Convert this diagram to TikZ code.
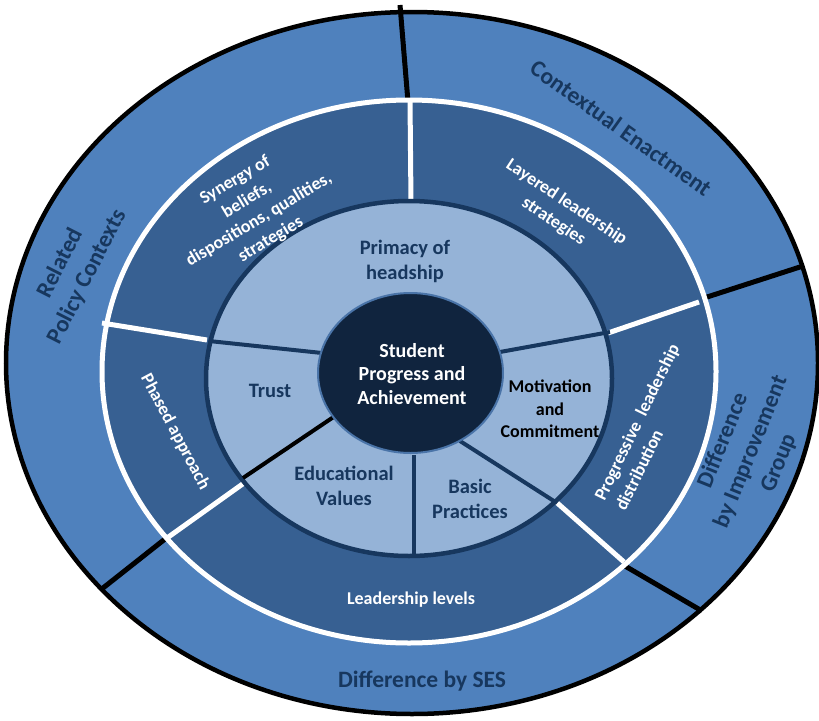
\documentclass[tikz,border=0pt]{standalone}
\usepackage{fontspec}
\setmainfont{Carlito}
\usepackage{tikz}
\usetikzlibrary{positioning}

\definecolor{ringouter}{HTML}{4F81BD}
\definecolor{ringmid}{HTML}{376092}
\definecolor{ringinner}{HTML}{95B3D7}
\definecolor{hubfill}{HTML}{10243E}
\definecolor{hubline}{HTML}{4A74A8}
\definecolor{navyline}{HTML}{17375E}
\definecolor{labelnavy}{HTML}{17375E}

\begin{document}
\begin{tikzpicture}[x=1pt, y=-1pt,
    outerlabel/.style={text=labelnavy, font=\bfseries\fontsize{23.5}{30}\selectfont, align=center},
    midlabel/.style={text=white, font=\bfseries\fontsize{18}{23}\selectfont, align=center},
    innerlabel/.style={text=labelnavy, font=\bfseries\fontsize{20.5}{25}\selectfont, align=center},
    outerdiv/.style={line width=5pt, black},
    middiv/.style={line width=5pt, white},
    innerdiv/.style={line width=4pt, navyline}]
    \useasboundingbox (0,0) rectangle (819,720);

    % Outer ring - contexts
    \filldraw [fill=ringouter, draw=black, line width=4.5pt] (412,363) ellipse [x radius=406pt, y radius=351pt];
    \draw [outerdiv] (400,5) -- (408,102);
    \draw [outerdiv] (704,298) -- (803,266);
    \draw [outerdiv] (625,566) -- (702,611);
    \draw [outerdiv] (165,539) -- (103,588);

    % Middle ring - leadership
    \filldraw [fill=ringmid, draw=white, line width=5pt] (409,371.5) ellipse [x radius=307pt, y radius=271.5pt];
    \draw [middiv] (410,100) -- (411,203);
    \draw [middiv] (608,333) -- (699,302);
    \draw [middiv] (555,501) -- (624,562);
    \draw [middiv] (244,483) -- (167,538);
    \draw [middiv] (207,340) -- (102,323);

    % Inner ring - core factors
    \filldraw [fill=ringinner, draw=navyline, line width=4.5pt] (409,378.5) ellipse [x radius=203pt, y radius=177.5pt];
    \draw [innerdiv] (209,341) -- (322,353);
    \draw [innerdiv] (500,352) -- (610,332);
    \draw [innerdiv] (460,441) -- (557,503);
    \draw [innerdiv] (414,455) -- (414,556);
    \draw [innerdiv, black] (335,416) -- (243,478);

    % Hub
    \filldraw [fill=hubfill, draw=hubline, line width=2pt] (410.5,373) ellipse [x radius=92.5pt, y radius=80pt];

    % Labels - outer ring
    \node [outerlabel, rotate=63] (policy) at (74,270) {Related\\Policy Contexts};
    \node [outerlabel, rotate=-35.5] (enact) at (621,128) {Contextual Enactment};
    \node [outerlabel, rotate=68] (improve) at (751,452) {Difference\\by Improvement\\Group};
    \node [outerlabel] (ses) at (422,681) {Difference by SES};

    % Labels - middle ring
    \node [midlabel, rotate=31] (synergy) at (253,210) {Synergy of\\beliefs,\\dispositions, qualities,\\strategies};
    \node [midlabel, rotate=-33.5] (layered) at (560,212) {Layered leadership\\strategies};
    \node [midlabel, rotate=64, align=left] (progressive) at (647,427) {Progressive\ \ leadership\\distribution};
    \node [midlabel, rotate=-62] (phased) at (175,432) {Phased approach};
    \node [midlabel] (levels) at (411,600) {Leadership levels};

    % Labels - inner ring
    \node [innerlabel] (primacy) at (405,261) {Primacy of\\headship};
    \node [innerlabel] (trust) at (270,391) {Trust};
    \node [innerlabel, text=black, font=\bfseries\fontsize{18}{22.5}\selectfont] (motivation) at (550,409) {Motivation\\and\\Commitment};
    \node [innerlabel] (values) at (344,486) {Educational\\Values};
    \node [innerlabel] (basic) at (470,499) {Basic\\Practices};

    % Centre
    \node [innerlabel, text=white, font=\bfseries\fontsize{20}{23.5}\selectfont] (student) at (412,374) {Student\\Progress and\\Achievement};
\end{tikzpicture}
\end{document}
